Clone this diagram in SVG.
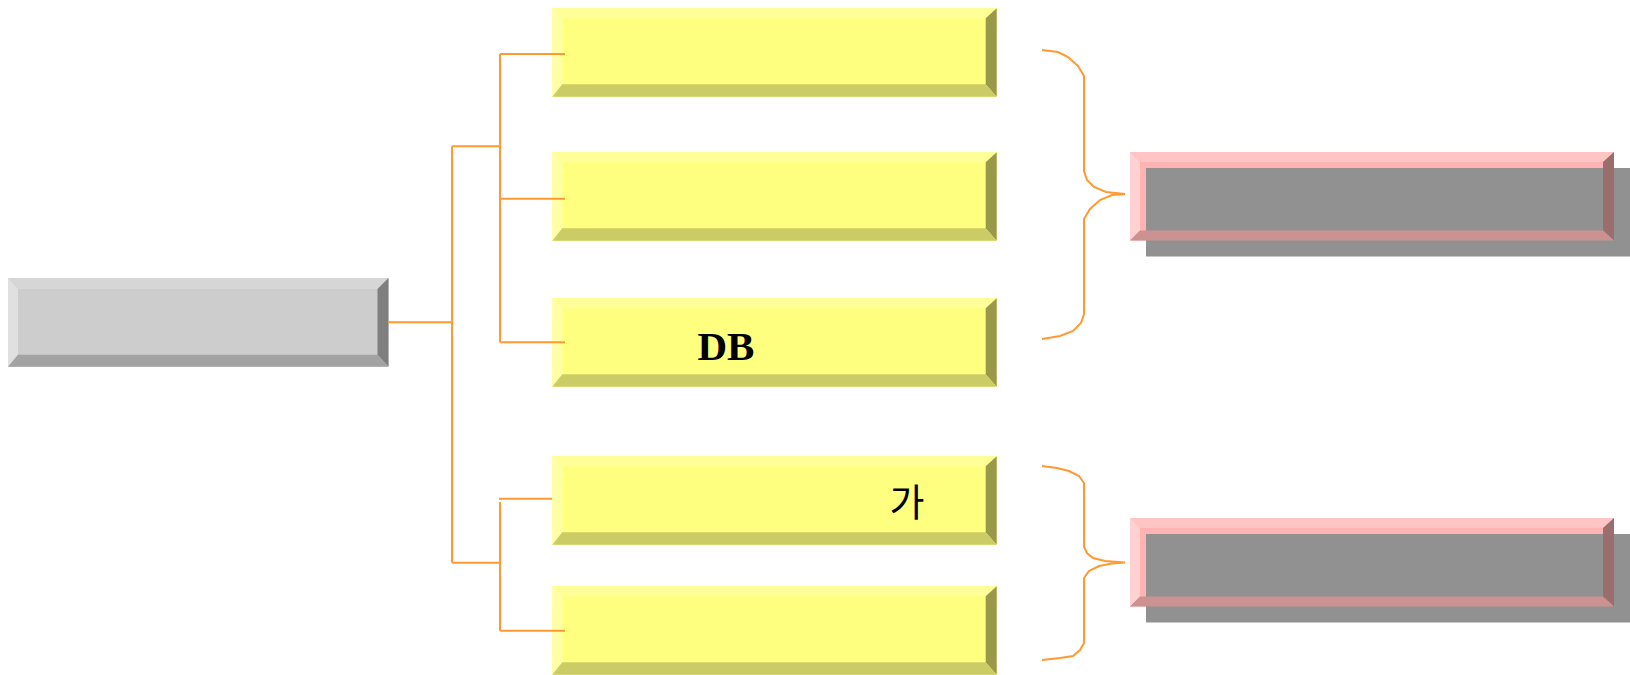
<svg xmlns="http://www.w3.org/2000/svg" xmlns:xlink="http://www.w3.org/1999/xlink" width="1630" height="675" viewBox="0 0 1630 675">
<style>
.conn{fill:none;stroke:#FF9933;stroke-width:2}
.yf{fill:#FFFF7F}.yt{fill:#FFFF99}.yl{fill:#FFFFA8}.yr{fill:#999949}.yb{fill:#CCCC66}
.gf{fill:#CDCDCD}.gt{fill:#D6D6D6}.gl{fill:#E0E0E0}.gr{fill:#7F7F7F}.gb{fill:#A3A3A3}
.pf{fill:#FFB3B3}.pt{fill:#FFC4C4}.pl{fill:#FFD1D1}.pr{fill:#9B6E6E}.pb{fill:#CC9191}
.sh{fill:#919191}
.db{font-family:"Liberation Serif",serif;font-weight:bold;font-size:41px;fill:#000}
.ko{font-family:"Noto Sans CJK KR","Noto Sans",sans-serif;font-size:38px;fill:#000}
</style>
<defs>
<g id="ybox">
<rect x="0" y="0" width="444.4" height="88.5" class="yf"/>
<polygon class="yt" points="0,0 444.4,0 433.4,10 10,10"/>
<polygon class="yl" points="0,0 10,10 10,76 0,88.5"/>
<polygon class="yr" points="444.4,0 444.4,88.5 433.4,76 433.4,10"/>
<polygon class="yb" points="0,88.5 10,76 433.4,76 444.4,88.5"/>
</g>
<g id="pbox">
<rect x="0" y="0" width="484" height="88.5" class="pf"/>
<rect x="16" y="16" width="500" height="88.5" class="sh"/>
<polygon class="pt" points="0,0 484,0 473,10 10,10"/>
<polygon class="pl" points="0,0 10,10 10,78.5 0,88.5"/>
<polygon class="pr" points="484,0 484,88.5 473,78.5 473,10"/>
<polygon class="pb" points="0,88.5 10,78.5 473,78.5 484,88.5"/>
</g>
</defs>
<g id="root-node">
<rect x="8" y="278" width="380.5" height="88.7" class="gf"/>
<polygon class="gt" points="8,278 388.5,278 377.5,289 18,289"/>
<polygon class="gl" points="8,278 18,289 18,354.7 8,366.7"/>
<polygon class="gr" points="388.5,278 388.5,366.7 377.5,354.7 377.5,289"/>
<polygon class="gb" points="8,366.7 18,354.7 377.5,354.7 388.5,366.7"/>
</g>
<g id="node-1"><use xlink:href="#ybox" transform="translate(552.3,8.2)"/></g>
<g id="node-2"><use xlink:href="#ybox" transform="translate(552.3,152.2)"/></g>
<g id="node-3"><use xlink:href="#ybox" transform="translate(552.3,298.2)"/>
<text class="db" x="726" y="360" text-anchor="middle">DB</text></g>
<g id="node-4"><use xlink:href="#ybox" transform="translate(552.3,456.2)"/>
<text class="ko" x="907" y="516" text-anchor="middle">가</text></g>
<g id="node-5"><use xlink:href="#ybox" transform="translate(552.3,586.2)"/></g>
<g id="result-1"><use xlink:href="#pbox" transform="translate(1130,152)"/></g>
<g id="result-2"><use xlink:href="#pbox" transform="translate(1130,518)"/></g>
<g id="connectors">
<path class="conn" d="M388,322.3 H452 M452,146.3 V562.7 M452,146.3 H500 M500,54 V342.3 M500,54 H565 M500,198.7 H565 M500,342.3 H565 M452,562.7 H500 M500,502 V630.7 M499,498.7 H552 M500,630.7 H565"/>
<path class="conn" d="M1042,50 L1058,52 L1068,57 L1078,66 L1084,76 L1084,171 L1087,180 L1094,187 L1106,192 L1125,194 L1112,195 L1100,200 L1090,209 L1084,219 L1084,314 L1081,323 L1073,331 L1060,336 L1042,339"/>
<path class="conn" d="M1042,466 L1057,468 L1069,471 L1079,476 L1084,483 L1084,547 L1087,553 L1093,558 L1105,561 L1125,562.5 L1112,563.5 L1099,566 L1089,571 L1084,578 L1084,643 L1080,650 L1073,656 L1060,658 L1042,660"/>
</g>
</svg>
